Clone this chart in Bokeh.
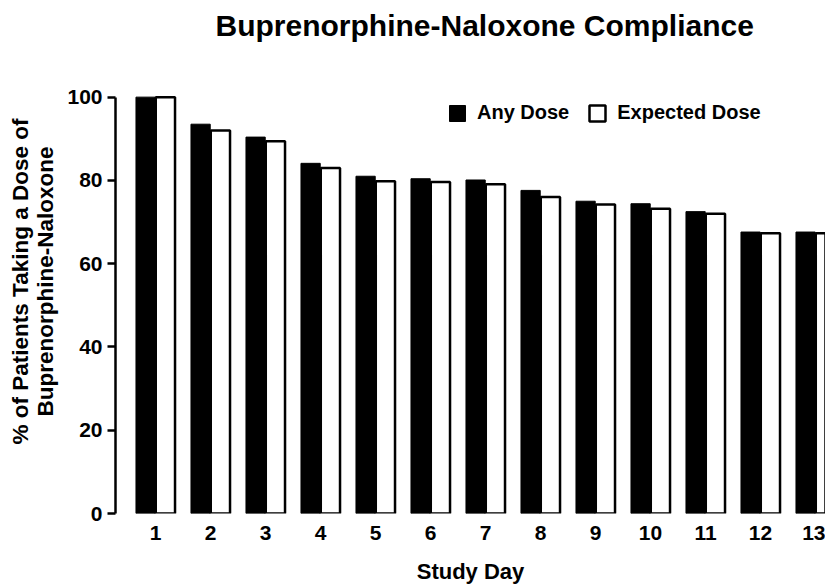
from bokeh.plotting import figure
from bokeh.models import ColumnDataSource, Range1d, FixedTicker, Legend, LegendItem, Title
from bokeh.transform import dodge
from bokeh.embed import file_html
from bokeh.resources import INLINE

days = list(range(1, 14))
day_labels = [str(d) for d in days]
any_dose = [100, 93.5, 90.4, 84.1, 81.0, 80.4, 80.1, 77.6, 75.0, 74.4, 72.5, 67.6, 67.6]
expected_dose = [100, 92.0, 89.4, 83.0, 79.8, 79.6, 79.1, 76.0, 74.2, 73.2, 72.0, 67.3, 67.3]
y_ticks = [0, 20, 40, 60, 80, 100]

TITLE = "Buprenorphine-Naloxone Compliance"
Y_LABEL = "% of Patients Taking a Dose of\nBuprenorphine-Naloxone"
X_LABEL = "Study Day"
SERIES = ["Any Dose", "Expected Dose"]

FONT = "Liberation Sans"

src = ColumnDataSource(dict(day=days, any_dose=any_dose, expected=expected_dose))

p = figure(width=825, height=586, output_backend="svg", toolbar_location=None, title=None,
           x_range=Range1d(1 - 40 / 55, 1 + 670 / 55), y_range=Range1d(0, 111.44),
           min_border_left=115, min_border_right=0, min_border_top=49, min_border_bottom=73)
p.outline_line_color = None
p.grid.grid_line_color = None
p.background_fill_color = "white"

r1 = p.vbar(x=dodge("day", -0.18, range=p.x_range), top="any_dose", width=0.35, source=src,
            fill_color="black", line_color="black", line_width=1)
r2 = p.vbar(x=dodge("day", 0.18, range=p.x_range), top="expected", width=0.35, source=src,
            fill_color="white", line_color="black", line_width=2.5)

p.add_layout(Title(text=TITLE, text_font=FONT, text_font_size="30px", text_font_style="bold",
                   text_color="black", align="left", offset=100, vertical_align="top",
                   standoff=12), "above")

# Y axis
ya = p.yaxis[0]
ya.ticker = FixedTicker(ticks=y_ticks)
ya.bounds = (0, 100)
ya.axis_line_width = 2.5
ya.major_tick_line_width = 2.5
ya.major_tick_out = 8
ya.major_tick_in = 0
ya.minor_tick_line_color = None
ya.major_label_text_font = FONT
ya.major_label_text_font_style = "bold"
ya.major_label_text_font_size = "21px"
ya.major_label_text_color = "black"
ya.major_label_standoff = 5
ya.axis_label = Y_LABEL
ya.axis_label_text_font = FONT
ya.axis_label_text_font_style = "bold"
ya.axis_label_text_font_size = "22.5px"
ya.axis_label_text_line_height = 1.0
ya.axis_label_text_color = "black"
ya.axis_label_standoff = 6

# X axis
xa = p.xaxis[0]
xa.ticker = FixedTicker(ticks=days)
xa.major_label_overrides = {d: l for d, l in zip(days, day_labels)}
xa.axis_line_color = None
xa.major_tick_line_color = None
xa.minor_tick_line_color = None
xa.major_label_text_font = FONT
xa.major_label_text_font_style = "bold"
xa.major_label_text_font_size = "21px"
xa.major_label_text_color = "black"
xa.major_label_standoff = 6
xa.axis_label = X_LABEL
xa.axis_label_text_font = FONT
xa.axis_label_text_font_style = "bold"
xa.axis_label_text_font_size = "22px"
xa.axis_label_text_color = "black"
xa.axis_label_standoff = 16

legend = Legend(items=[LegendItem(label=SERIES[0], renderers=[r1]),
                       LegendItem(label=SERIES[1], renderers=[r2])],
                location=(332, 389), orientation="horizontal",
                glyph_width=20, glyph_height=20, label_standoff=10, spacing=18,
                padding=0, margin=0, border_line_alpha=0, background_fill_alpha=0,
                label_text_font=FONT, label_text_font_style="bold", label_text_font_size="20px",
                label_text_color="black", label_height=20)
p.add_layout(legend, "center")

open("out.html", "w").write(file_html(p, INLINE))
